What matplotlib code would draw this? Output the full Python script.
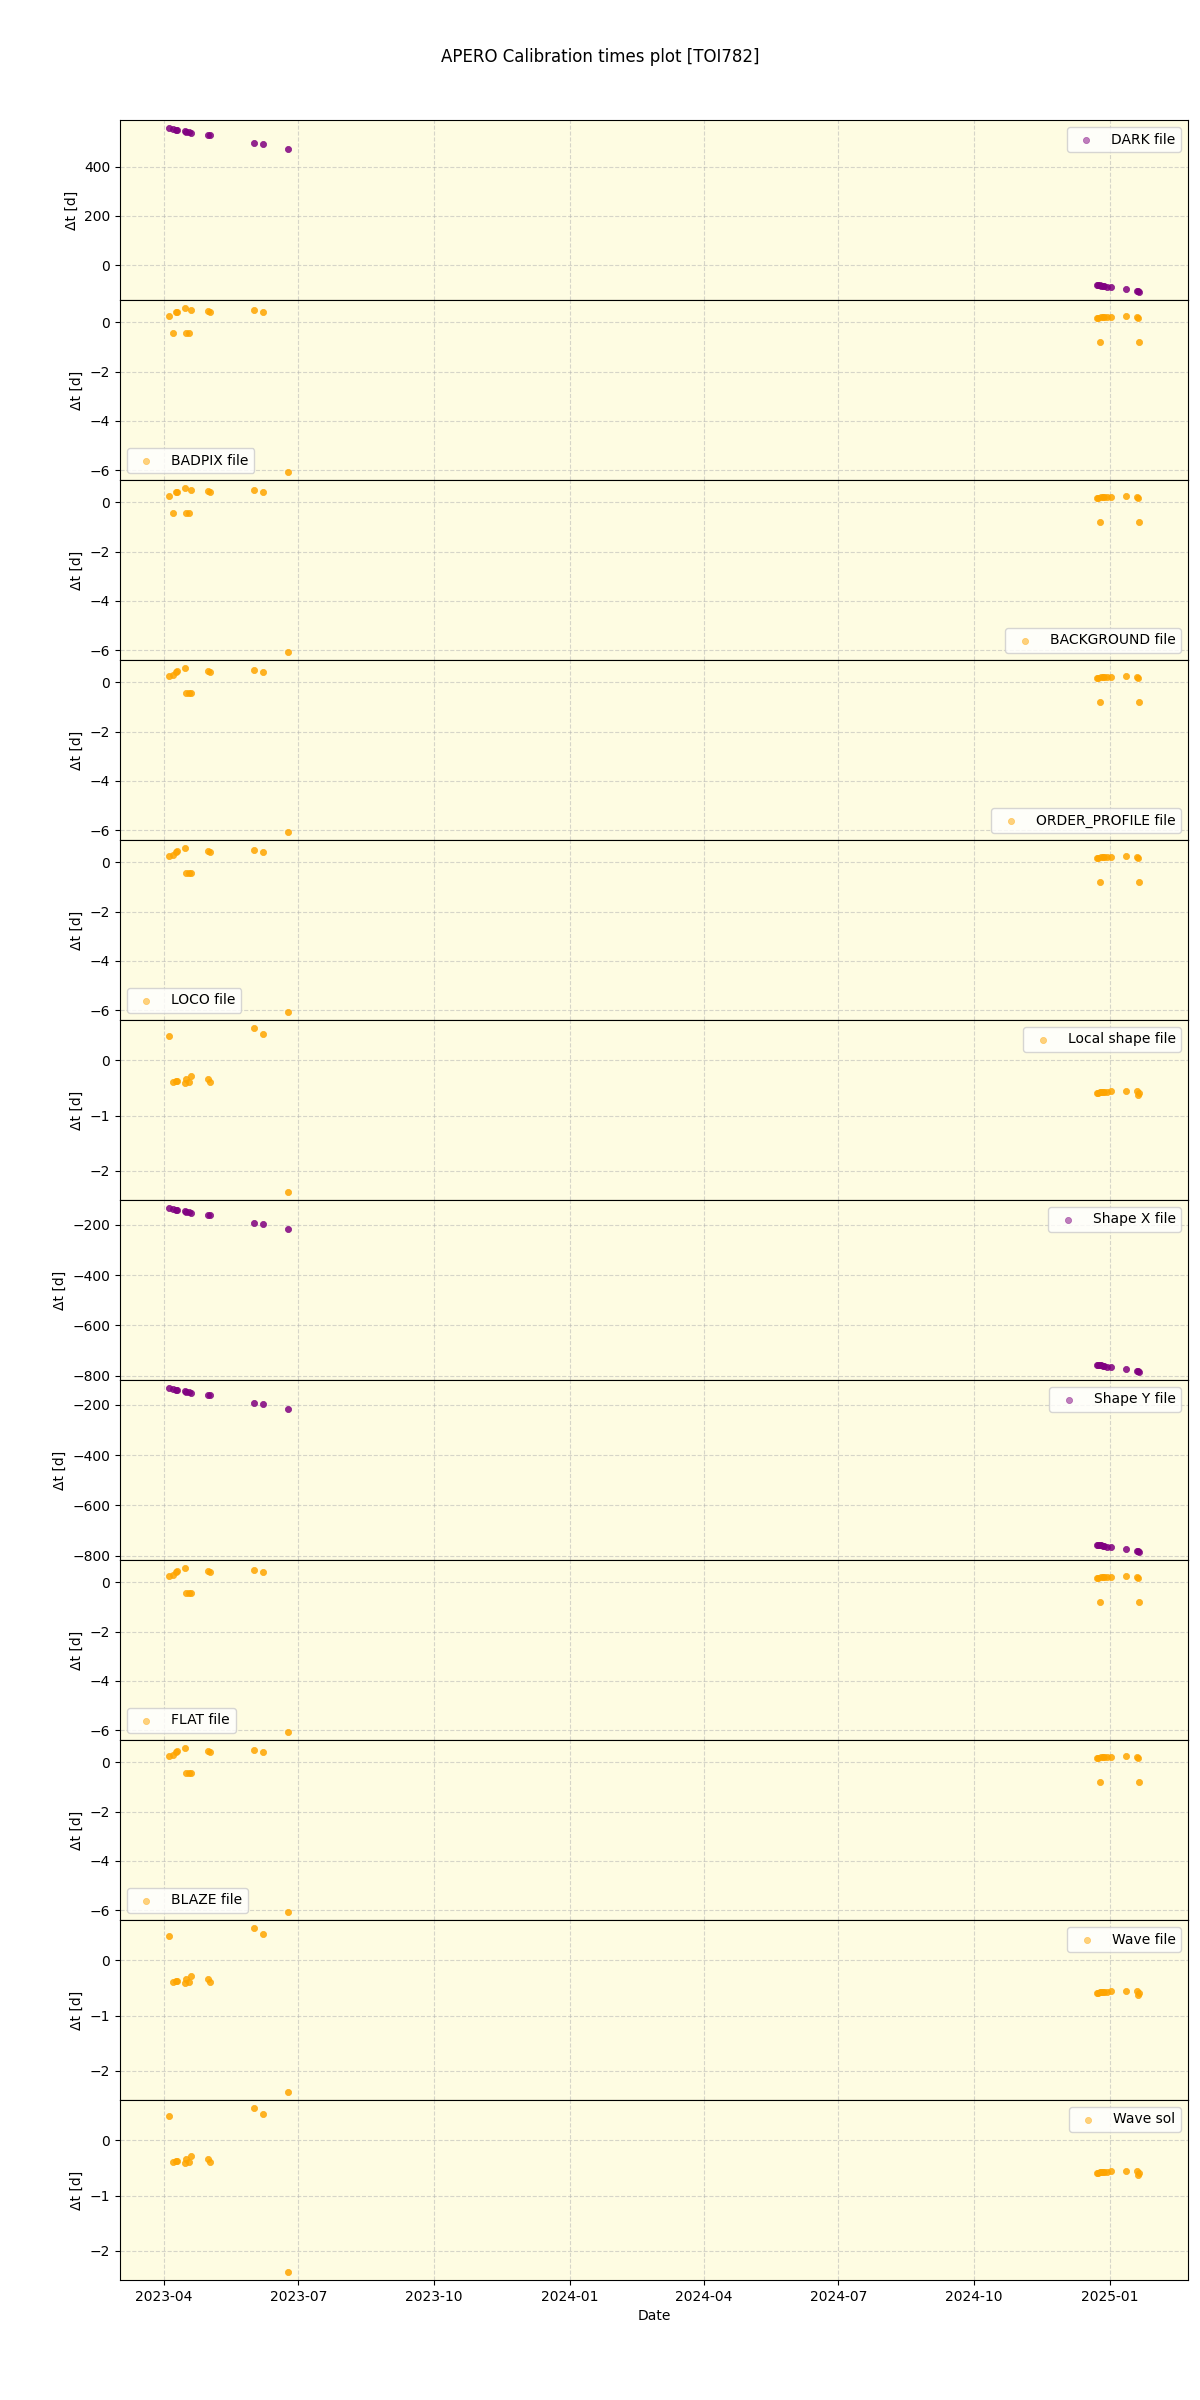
import matplotlib
matplotlib.use('Agg')
import matplotlib.pyplot as plt
import pandas as pd

# observation dates (same set in every panel)
obs_dates = pd.to_datetime([
    '2023-04-04', '2023-04-07', '2023-04-09', '2023-04-10', '2023-04-15',
    '2023-04-16', '2023-04-18', '2023-04-19', '2023-05-01', '2023-05-02',
    '2023-06-01', '2023-06-07', '2023-06-24',
    '2024-12-23', '2024-12-24', '2024-12-25', '2024-12-26', '2024-12-27',
    '2024-12-28', '2024-12-30', '2025-01-02', '2025-01-12', '2025-01-19',
    '2025-01-20', '2025-01-21',
])

# delta t [days] for each calibration type
dark = [556, 552, 549, 548, 544, 542, 540, 538, 529, 527, 495, 491, 471,
        -80, -81, -82, -83, -84, -86, -88, -90, -98, -105, -106, -108]
badpix = [0.25, -0.42, 0.43, 0.43, 0.57, -0.43, -0.43, 0.51, 0.47, 0.40, 0.48, 0.40, -6.06,
          0.18, 0.19, -0.81, 0.20, 0.21, 0.22, 0.22, 0.23, 0.25, 0.22, 0.16, -0.81]
background = [0.25, -0.42, 0.43, 0.43, 0.57, -0.43, -0.43, 0.51, 0.47, 0.40, 0.48, 0.40, -6.07,
              0.18, 0.19, -0.81, 0.20, 0.21, 0.22, 0.22, 0.23, 0.25, 0.22, 0.16, -0.81]
order_profile = [0.25, 0.28, 0.42, 0.45, 0.57, -0.44, -0.44, -0.44, 0.47, 0.40, 0.48, 0.40, -6.07,
                 0.18, 0.19, -0.81, 0.20, 0.21, 0.22, 0.22, 0.23, 0.25, 0.22, 0.16, -0.81]
loco = [0.25, 0.28, 0.42, 0.45, 0.57, -0.44, -0.44, -0.44, 0.47, 0.40, 0.48, 0.40, -6.07,
        0.18, 0.19, -0.81, 0.20, 0.21, 0.22, 0.22, 0.23, 0.25, 0.22, 0.16, -0.81]
local_shape = [0.44, -0.39, -0.37, -0.38, -0.41, -0.34, -0.39, -0.29, -0.34, -0.39, 0.58, 0.48, -2.38,
               -0.59, -0.59, -0.58, -0.58, -0.58, -0.57, -0.57, -0.55, -0.56, -0.55, -0.63, -0.60]
shape_x = [-133, -137, -140, -141, -145, -147, -149, -151, -160, -161, -193, -197, -217,
           -756, -757, -758, -759, -760, -762, -764, -766, -774, -782, -783, -785]
shape_y = [-133, -137, -140, -141, -145, -147, -149, -151, -160, -161, -193, -197, -217,
           -756, -757, -758, -759, -760, -762, -764, -766, -774, -782, -783, -785]
flat = [0.25, 0.28, 0.42, 0.45, 0.57, -0.44, -0.44, -0.44, 0.47, 0.40, 0.48, 0.40, -6.07,
        0.18, 0.19, -0.81, 0.20, 0.21, 0.22, 0.22, 0.23, 0.25, 0.22, 0.16, -0.81]
blaze = [0.25, 0.28, 0.42, 0.45, 0.57, -0.44, -0.44, -0.44, 0.47, 0.40, 0.48, 0.40, -6.07,
         0.18, 0.19, -0.81, 0.20, 0.21, 0.22, 0.22, 0.23, 0.25, 0.22, 0.16, -0.81]
wave_file = [0.44, -0.39, -0.37, -0.38, -0.41, -0.34, -0.39, -0.29, -0.34, -0.39, 0.58, 0.48, -2.38,
             -0.59, -0.59, -0.58, -0.58, -0.58, -0.57, -0.57, -0.55, -0.56, -0.55, -0.63, -0.60]
wave_sol = [0.44, -0.39, -0.37, -0.38, -0.41, -0.34, -0.39, -0.29, -0.34, -0.39, 0.58, 0.48, -2.38,
            -0.59, -0.59, -0.58, -0.58, -0.58, -0.57, -0.57, -0.55, -0.56, -0.55, -0.63, -0.60]

panels = [
    ('DARK file', dark, 'purple', 'upper right'),
    ('BADPIX file', badpix, 'orange', 'lower left'),
    ('BACKGROUND file', background, 'orange', 'lower right'),
    ('ORDER_PROFILE file', order_profile, 'orange', 'lower right'),
    ('LOCO file', loco, 'orange', 'lower left'),
    ('Local shape file', local_shape, 'orange', 'upper right'),
    ('Shape X file', shape_x, 'purple', 'upper right'),
    ('Shape Y file', shape_y, 'purple', 'upper right'),
    ('FLAT file', flat, 'orange', 'lower left'),
    ('BLAZE file', blaze, 'orange', 'lower left'),
    ('Wave file', wave_file, 'orange', 'upper right'),
    ('Wave sol', wave_sol, 'orange', 'upper right'),
]

fig, axes = plt.subplots(nrows=len(panels), ncols=1, sharex=True, figsize=(12, 24))
plt.subplots_adjust(hspace=0, left=0.1, right=0.99, top=0.95, bottom=0.05)

for ax, (label, vals, col, loc) in zip(axes, panels):
    ax.set_facecolor('#fefce2')
    ax.scatter(obs_dates, vals, color=col, alpha=0.85, s=20, linewidths=0.5,
               label=label, zorder=3)
    ax.grid(True, linestyle='--', alpha=0.5)
    ax.set_ylabel('Δt [d]')
    leg = ax.legend(loc=loc)
    for h in leg.legend_handles:
        h.set_alpha(0.5)

axes[-1].set_xlabel('Date')
fig.suptitle('APERO Calibration times plot [TOI782]')

plt.savefig('out.png', dpi=100)
